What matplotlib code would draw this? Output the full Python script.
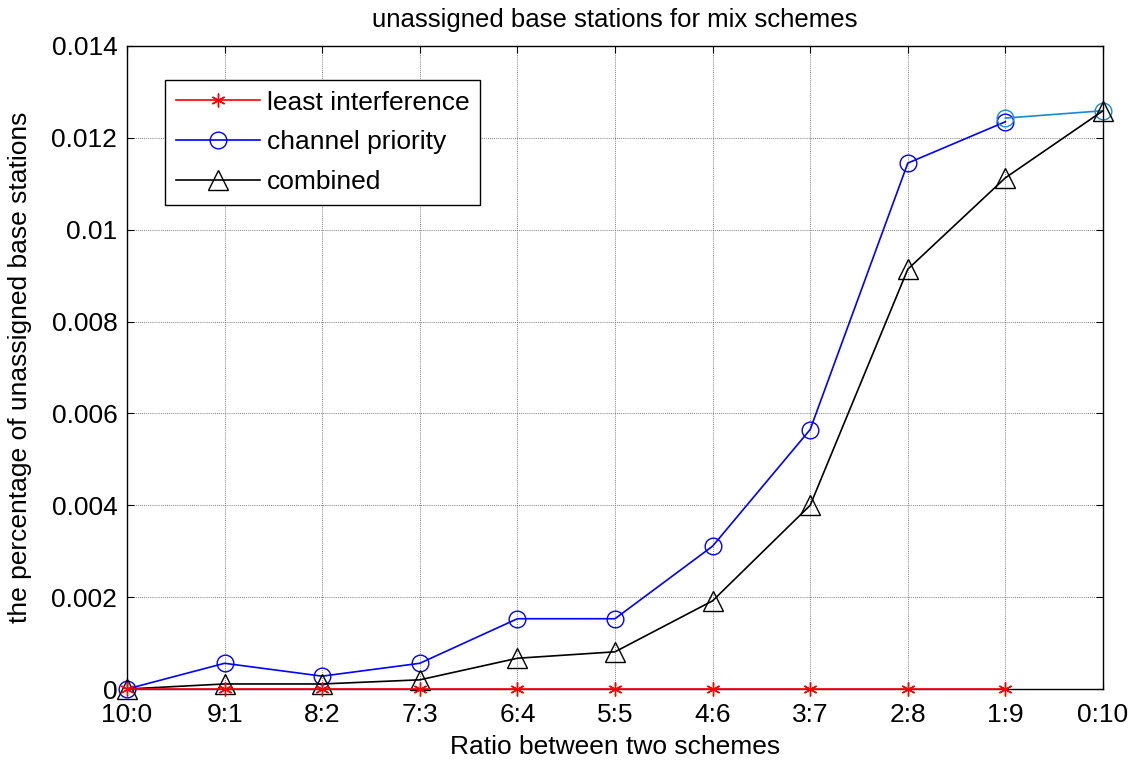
import numpy as np
import matplotlib.pyplot as plt

plt.rcParams['font.family'] = ['Liberation Sans', 'DejaVu Sans']

ratios = ['10:0', '9:1', '8:2', '7:3', '6:4', '5:5', '4:6', '3:7', '2:8', '1:9', '0:10']
least_interference = [0, 0, 0, 0, 0, 0, 0, 0, 0, 0]
channel_priority = [0, 0.00056, 0.00028, 0.00056, 0.00153, 0.00153, 0.00311, 0.00565, 0.01145, 0.01235]
channel_tail = [0.01243, 0.01259]
combined = [0, 0.00011, 0.00011, 0.0002, 0.00067, 0.00081, 0.00192, 0.0040, 0.00914, 0.01113, 0.01259]

x = np.arange(len(ratios))

fig = plt.figure(figsize=(11.43, 7.6), dpi=100)
ax = fig.add_axes([0.1111, 0.0934, 0.8539, 0.8461])

ax.plot(x[:10], least_interference, color='red', lw=1.2, marker=(6, 2, 0),
        ms=10, mec='red', label='least interference', clip_on=False, zorder=3)
ax.plot(x[:10], channel_priority, color='blue', lw=1.2, marker='o', ms=12,
        mfc='none', mec='blue', label='channel priority', clip_on=False)
ax.plot(x[9:], channel_tail, color='#1a8ad4', lw=1.2, marker='o', ms=12,
        mfc='none', mec='#1a8ad4', clip_on=False)
ax.plot(x, combined, color='black', lw=1.2, marker='^', ms=14,
        mfc='none', mec='black', label='combined', clip_on=False)

ax.set_xlim(0, 10)
ax.set_ylim(0, 0.014)
ax.set_xticks(x)
ax.set_xticklabels(ratios)
ax.set_yticks(np.arange(0, 0.0141, 0.002))
ax.set_yticklabels(['0', '0.002', '0.004', '0.006', '0.008', '0.01', '0.012', '0.014'])
ax.tick_params(direction='in', top=True, right=True, labelsize=19, length=5)
ax.tick_params(axis='x', pad=10)
ax.tick_params(axis='y', pad=7)
ax.grid(True, color='#555555', linestyle=(0, (1, 1.5)), linewidth=0.6)
for s in ax.spines.values():
    s.set_linewidth(1.0)

ax.set_title('unassigned base stations for mix schemes', fontsize=18.5, pad=14)
ax.set_xlabel('Ratio between two schemes', fontsize=19, labelpad=6)
ax.set_ylabel('the percentage of unassigned base stations', fontsize=19, labelpad=14)

leg = ax.legend(loc='upper left', bbox_to_anchor=(0.039, 0.947), fontsize=19,
                fancybox=False, edgecolor='black', framealpha=1, handlelength=3.2,
                borderpad=0.4, labelspacing=0.6, handletextpad=0.25,
                borderaxespad=0)
leg.get_frame().set_linewidth(1.0)

plt.savefig('out.png', dpi=100)
